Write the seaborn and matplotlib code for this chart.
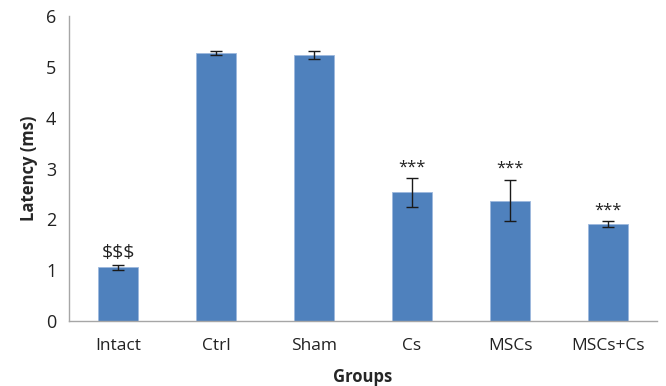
import matplotlib
matplotlib.use("Agg")
import matplotlib.pyplot as plt
import seaborn as sns
import pandas as pd
import numpy as np

groups = ["Intact", "Ctrl", "Sham", "Cs", "MSCs", "MSCs+Cs"]
latency = [1.06, 5.27, 5.24, 2.53, 2.37, 1.91]
sem = [0.05, 0.04, 0.08, 0.28, 0.41, 0.05]
marks = ["$$$", "", "", "***", "***", "***"]

df = pd.DataFrame({"Groups": groups, "Latency": latency})

sns.set_theme(style="white")
plt.rcParams["font.family"] = ["Open Sans", "DejaVu Sans"]

fig = plt.figure(figsize=(6.66, 3.86), dpi=100)
ax = fig.add_axes([0.1036, 0.168, 0.883, 0.7905])

sns.barplot(data=df, x="Groups", y="Latency", color="#4F81BD", width=0.4,
            saturation=1, edgecolor="#9DB9DD", linewidth=0.6, ax=ax)
ax.errorbar(range(len(groups)), latency, yerr=sem, fmt="none",
            ecolor="#1a1a1a", elinewidth=1.0, capsize=4, capthick=1.0)

for i, (v, e, m) in enumerate(zip(latency, sem, marks)):
    if m:
        ax.text(i, v + e + 0.06, m, ha="center", va="bottom",
                fontsize=14 if m.startswith("$") else 12, color="#222222")

ax.set_xlim(-0.5, len(groups) - 0.5)
ax.set_ylim(0, 6)
ax.set_yticks(range(0, 7))
ax.set_xticks(np.arange(-0.5, len(groups)), minor=True)
ax.tick_params(axis="x", which="major", length=0, pad=12, labelsize=12.5, colors="#222222")
ax.tick_params(axis="x", which="minor", length=5, width=1, color="#A6A6A6", direction="out")
ax.tick_params(axis="y", length=5, width=1, color="#A6A6A6", direction="out", labelsize=13,
               labelcolor="#222222", pad=4)

for side in ["top", "right"]:
    ax.spines[side].set_visible(False)
for side in ["left", "bottom"]:
    ax.spines[side].set_color("#A6A6A6")
    ax.spines[side].set_linewidth(1.0)

ax.set_xlabel("Groups", fontsize=12, fontweight="bold", labelpad=10)
ax.set_ylabel("Latency (ms)", fontsize=12, fontweight="bold", labelpad=6)

fig.savefig("out.png", dpi=100)
